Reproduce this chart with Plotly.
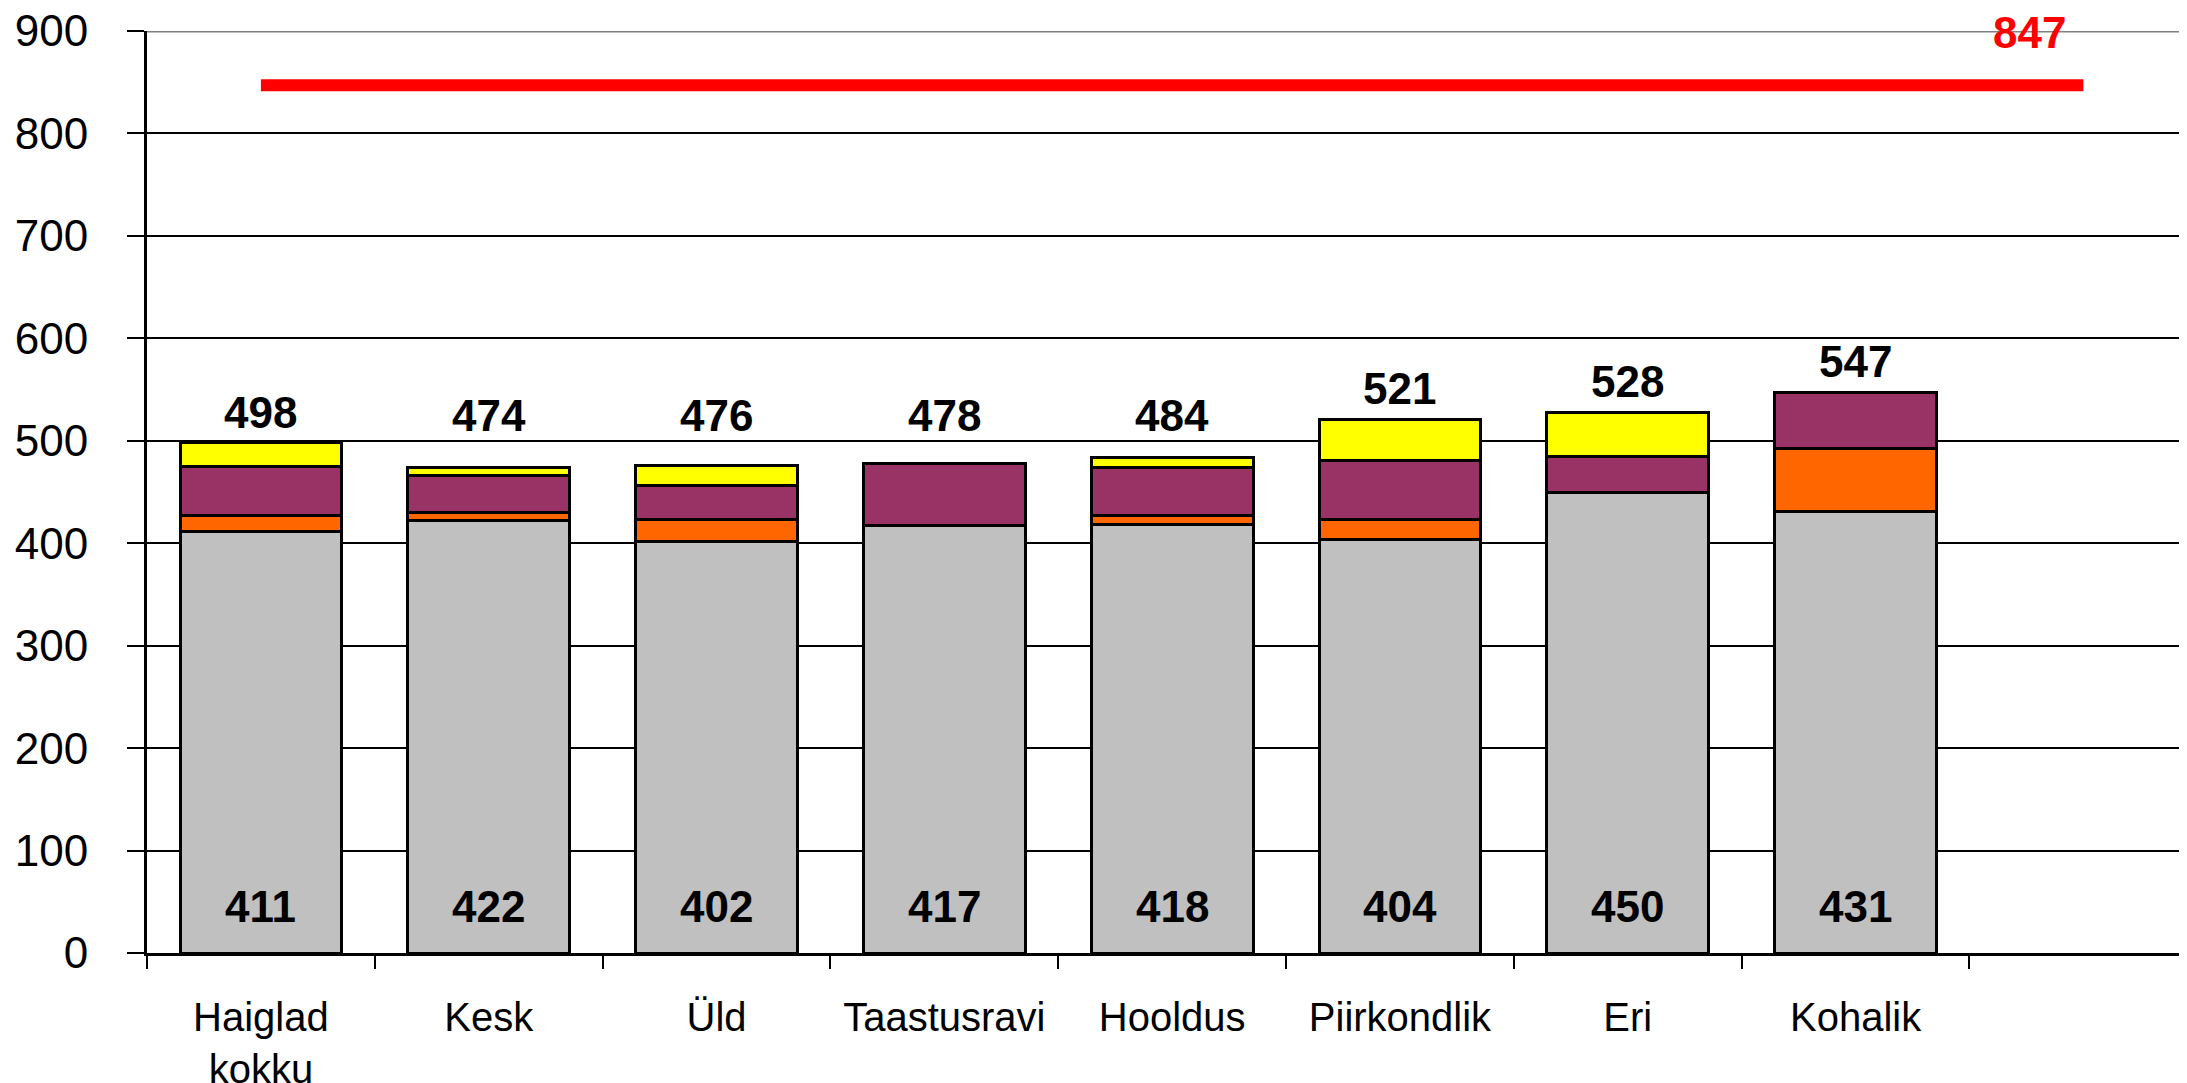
import plotly.graph_objects as go

categories = ["Haiglad<br>kokku", "Kesk", "Üld", "Taastusravi", "Hooldus", "Piirkondlik", "Eri", "Kohalik"]
extra_slot = " "
gray_vals = [411, 422, 402, 417, 418, 404, 450, 431]
orange_vals = [16, 8, 21, 0, 9, 19, 0, 61]
purple_vals = [48, 36, 33, 61, 47, 58, 35, 55]
yellow_vals = [23, 8, 20, 0, 10, 40, 43, 0]
totals = [498, 474, 476, 478, 484, 521, 528, 547]
reference_value = 847
y_ticks = [0, 100, 200, 300, 400, 500, 600, 700, 800, 900]

all_cats = categories + [extra_slot]
FONT = "Liberation Sans, Arial, sans-serif"

fig = go.Figure()
series = [
    (gray_vals, "#C0C0C0"),
    (orange_vals, "#FF6600"),
    (purple_vals, "#993366"),
    (yellow_vals, "#FFFF00"),
]
for vals, col in series:
    fig.add_trace(go.Bar(
        x=categories, y=vals, marker=dict(color=col, line=dict(color="black", width=3)),
        showlegend=False, hoverinfo="x+y",
    ))

fig.add_trace(go.Scatter(
    x=[categories[0], extra_slot], y=[reference_value, reference_value],
    mode="lines", line=dict(color="#FF0000", width=12), showlegend=False,
))

annotations = []
for c, t, g in zip(categories, totals, gray_vals):
    annotations.append(dict(
        x=c, y=max(t, 495) + 30, text=f"<b>{t}</b>", showarrow=False,
        font=dict(family=FONT, size=44, color="black"), yanchor="middle",
    ))
    annotations.append(dict(
        x=c, y=45, text=f"<b>{g}</b>", showarrow=False,
        font=dict(family=FONT, size=44, color="black"), yanchor="middle",
    ))
annotations.append(dict(
    x=extra_slot, y=reference_value, text=f"<b>{reference_value}</b>", showarrow=False,
    xshift=-54, yshift=53, yanchor="middle",
    font=dict(family=FONT, size=44, color="#FF0000"),
))

fig.update_layout(
    barmode="stack",
    bargap=0.29,
    width=2187, height=1083,
    margin=dict(l=139, r=0, t=23, b=138),
    plot_bgcolor="white", paper_bgcolor="white",
    annotations=annotations,
    shapes=[dict(type="line", xref="paper", yref="y", x0=0, x1=1, y0=900, y1=900,
                 line=dict(color="#808080", width=3), layer="below")],
    xaxis=dict(
        type="category", categoryorder="array", categoryarray=all_cats,
        range=[-0.5, 8.49], tickson="boundaries", ticks="outside", ticklen=13,
        tickwidth=2, tickcolor="black", showline=True, linecolor="black", linewidth=3,
        tickfont=dict(family=FONT, size=40, color="black"), ticklabelstandoff=27,
        showgrid=False, automargin=False, ticklabeloverflow="allow",
    ),
    yaxis=dict(
        range=[0, 900], tickvals=y_ticks, ticks="outside", ticklen=17, tickwidth=2,
        tickcolor="black", showline=True, linecolor="black", linewidth=3,
        gridcolor="black", gridwidth=2, zeroline=False, automargin=False,
        tickfont=dict(family=FONT, size=44, color="black"), ticklabelstandoff=30,
        ticklabeloverflow="allow",
    ),
)

fig.write_html("out.html")
